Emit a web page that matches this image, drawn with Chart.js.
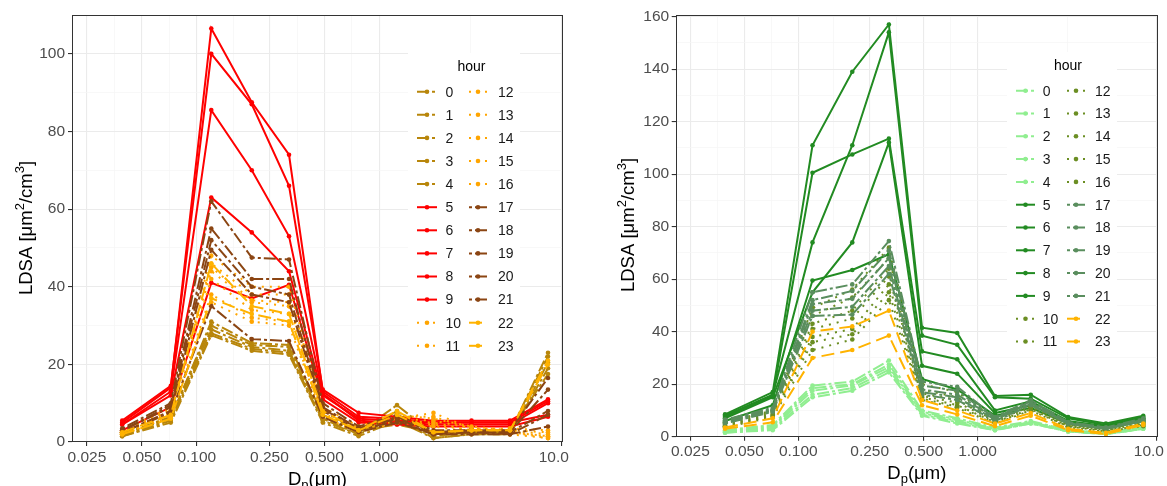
<!DOCTYPE html>
<html lang="en">
<head>
<meta charset="UTF-8">
<title>LDSA by particle size and hour</title>
<script src="https://cdn.jsdelivr.net/npm/chart.js"></script>
<style>
  body { margin: 0; background: #fff; }
  .wrap { position: relative; width: 1167px; height: 486px; overflow: hidden; }
  #leftChart { position: absolute; left: 0; top: 0; }
  #rightChart { position: absolute; left: 583px; top: 0; }
</style>
</head>
<body>
<div class="wrap">
  <canvas id="leftChart" width="583" height="486"></canvas>
  <canvas id="rightChart" width="584" height="486"></canvas>
</div>
<script>
// particle size classes (um) and hours of the day
const diameters = [0.039, 0.072, 0.12, 0.2, 0.32, 0.49, 0.77, 1.25, 1.98, 3.2, 5.2, 8.4];
const hours = [0, 1, 2, 3, 4, 5, 6, 7, 8, 9, 10, 11, 12, 13, 14, 15, 16, 17, 18, 19, 20, 21, 22, 23];

const xTickValues = [0.025, 0.05, 0.1, 0.25, 0.5, 1, 10];
const xTickLabels = ['0.025', '0.050', '0.100', '0.250', '0.500', '1.000', '10.0'];
const xMinorValues = [0.0354, 0.0707, 0.158, 0.354, 0.707, 3.16];

const yMajorLeft = [0, 20, 40, 60, 80, 100];
const yMinorLeft = [10, 30, 50, 70, 90, 110];
const yMajorRight = [0, 20, 40, 60, 80, 100, 120, 140, 160];
const yMinorRight = [10, 30, 50, 70, 90, 110, 130, 150];

// LDSA (um2/cm3), one row per hour, one value per diameter
const ldsaLeft = [
  [2.0, 6.5, 30, 25, 24.5, 6.5, 2.5, 9.5, 2.0, 2.5, 2.5, 23],
  [1.8, 6.0, 29, 24.5, 23.5, 6.0, 2.0, 8.0, 1.5, 2.5, 2.5, 22],
  [1.5, 5.5, 28, 24, 23, 5.5, 2.0, 6.5, 1.0, 2.0, 2.0, 20.5],
  [1.5, 5.0, 27.5, 23.5, 22.5, 5.0, 1.5, 5.5, 1.0, 2.0, 2.0, 19],
  [2.2, 6.0, 31, 25.5, 25, 7.0, 3.0, 4.5, 2.5, 3.0, 3.0, 17.5],
  [3.0, 9.0, 41, 37, 40.5, 11, 5.0, 4.5, 4.0, 4.0, 4.0, 6.5],
  [4.5, 12, 63, 54, 44, 12, 6.0, 5.5, 5.0, 5.0, 5.0, 7.0],
  [5.5, 14.5, 100, 87, 66, 13.5, 7.5, 6.5, 5.5, 5.5, 5.5, 11],
  [5.0, 14, 106.5, 87.5, 74, 13, 6.5, 6.0, 5.0, 5.0, 5.0, 10.5],
  [4.5, 13, 85.5, 70, 53, 12.5, 5.5, 5.0, 4.5, 4.5, 4.5, 10],
  [2.5, 8, 44, 36, 35, 8, 3.5, 6, 7.5, 3.5, 3.5, 3.0],
  [2.5, 8.5, 46, 38, 38, 8.5, 3.5, 6.5, 6.5, 3.5, 3.0, 2.5],
  [2.8, 9, 48, 40, 40, 9, 4.0, 7, 6.0, 4.0, 3.0, 2.0],
  [2.5, 8, 45, 36.5, 36, 8, 3.5, 6, 5.5, 3.5, 2.5, 1.5],
  [2.2, 7.5, 42, 34, 33, 7.5, 3.0, 5.5, 5.0, 3.0, 2.5, 1.5],
  [2.0, 7, 38, 32, 31, 7, 3.0, 5.0, 4.5, 3.0, 2.5, 1.0],
  [2.0, 6.5, 36, 31, 30, 6.5, 2.5, 5.0, 4.0, 2.5, 2.0, 1.0],
  [3.5, 10, 62, 47.5, 47, 10, 4.0, 7.0, 3.0, 3.0, 3.0, 16.5],
  [3.0, 9.5, 55, 42, 42, 9, 3.5, 6.5, 2.5, 3.0, 2.5, 13.5],
  [3.0, 9, 52, 40, 38, 8.5, 3.5, 6.0, 2.5, 2.5, 2.5, 8],
  [2.5, 8, 49.5, 38, 36, 8, 3.0, 5.5, 2.0, 2.5, 2.0, 7],
  [2.5, 7.5, 35, 26.5, 26, 6.5, 2.5, 5.0, 2.0, 2.0, 2.0, 4],
  [2.5, 7, 46, 35, 33, 8, 3.0, 8, 2.5, 3.0, 3.0, 21],
  [2.0, 6, 37, 33, 31, 7, 3.0, 7, 2.5, 3.0, 3.0, 20]
];

const ldsaRight = [
  [2.5, 4.5, 19.5, 21, 29, 10, 7.0, 3.5, 6.0, 2.5, 1.5, 3.5],
  [2.0, 4.0, 18.5, 20, 27.5, 9.5, 6.5, 3.0, 5.5, 2.5, 1.5, 3.5],
  [1.8, 3.5, 17.5, 19.5, 26.5, 9.0, 6.0, 3.0, 5.5, 2.0, 1.0, 3.0],
  [1.5, 3.0, 16, 18.5, 25.5, 8.5, 5.5, 2.5, 5.0, 2.0, 1.0, 3.0],
  [1.5, 2.5, 15, 17.5, 24.5, 8.0, 5.0, 2.5, 5.0, 2.0, 1.0, 3.0],
  [6.0, 12, 59.5, 63.5, 69.5, 22, 18, 8, 11, 5.0, 3.0, 6.0],
  [7.0, 15, 55, 74, 112, 27, 24, 9, 12, 5.5, 3.5, 6.5],
  [8.5, 17, 111, 139, 157, 41.5, 39.5, 15.5, 16, 7.5, 5.0, 8.0],
  [8.0, 16, 74, 111, 154, 38.5, 35, 15, 14.5, 7.0, 4.5, 7.5],
  [7.5, 15.5, 100.5, 107.5, 113.5, 32.5, 29.5, 10, 13.5, 6.0, 4.0, 7.0],
  [5.5, 10, 49, 56, 72, 20, 17, 7, 13, 5, 3, 6],
  [5.0, 9.5, 46, 53, 68, 18, 15, 6.5, 12, 4.5, 3, 5.5],
  [4.5, 9, 43, 48, 64, 16.5, 14, 6, 11.5, 4.5, 2.5, 5],
  [4.5, 8.5, 41, 45, 61, 15.5, 13, 6, 11, 4, 2.5, 5],
  [4.0, 8, 38, 41, 58, 15, 12, 5.5, 10.5, 4, 2.5, 4.5],
  [4.0, 8, 36, 39, 55, 14.5, 11.5, 5.5, 10, 4, 2, 4.5],
  [3.5, 7.5, 33, 37, 52, 14, 11, 5, 10, 3.5, 2, 4],
  [6.5, 11, 55, 58, 74.5, 21, 19, 7.5, 14, 5.5, 3.5, 7],
  [6.0, 10.5, 52, 55.5, 71, 19.5, 17.5, 7, 13.5, 5.5, 3.5, 6.5],
  [6.0, 10, 50.5, 52.5, 68, 18, 16, 7, 13, 5, 3, 6.5],
  [5.5, 10, 48, 49.5, 65, 17, 15, 6.5, 12.5, 5, 3, 6],
  [5.0, 9.5, 46, 46.5, 62, 16, 14, 6, 12, 5, 3, 6],
  [3.5, 7, 40, 42, 48, 14, 10, 5, 9, 3, 1.5, 5],
  [3.0, 5.5, 30, 33, 38.5, 12, 8.5, 4, 8, 2.5, 1, 4.5]
];

// hour groups: 0-4, 5-9, 10-16, 17-21, 22-23
function groupOf(h) {
  if (h <= 4) return 0;
  if (h <= 9) return 1;
  if (h <= 16) return 2;
  if (h <= 21) return 3;
  return 4;
}
const dashes = [[12, 3, 3, 3], [], [2, 6], [3, 3, 12, 3], [13, 6]];
const leftColors = ['#B8860B', '#FF0000', '#FFA500', '#8B4513', '#FFB300'];
const rightColors = ['#90EE90', '#228B22', '#6B8E23', '#5A8E5E', '#FFB300'];

const FONT = '"Liberation Sans", Arial, sans-serif';

function makeDatasets(rows, colors) {
  return hours.map(h => {
    const g = groupOf(h);
    return {
      label: String(h),
      data: diameters.map((d, i) => ({ x: d, y: rows[h][i] })),
      borderColor: colors[g],
      backgroundColor: colors[g],
      borderWidth: 2,
      borderDash: dashes[g],
      pointRadius: 2.3,
      pointBorderWidth: 0,
      pointBackgroundColor: colors[g],
      tension: 0,
      order: 23 - h
    };
  });
}

// axis titles, x tick labels, panel border and the inside legend
const decorations = {
  id: 'decorations',
  afterDraw(chart) {
    const ctx = chart.ctx;
    const area = chart.chartArea;
    const o = chart.options.plugins.decorations;
    const xs = chart.scales.x;

    ctx.save();
    ctx.strokeStyle = '#333333';
    ctx.lineWidth = 1;
    ctx.strokeRect(Math.round(area.left) + 0.5, Math.round(area.top) + 0.5,
      Math.round(area.right - area.left) - 1, Math.round(area.bottom - area.top) - 1);

    // x tick labels
    ctx.font = '15.5px ' + FONT;
    ctx.fillStyle = '#4d4d4d';
    ctx.textAlign = 'center';
    ctx.textBaseline = 'alphabetic';
    xTickValues.forEach((v, i) => {
      let px = xs.getPixelForValue(v);
      if (i === xTickValues.length - 1) px -= 8;
      ctx.fillText(xTickLabels[i], px, area.bottom + 19.5);
    });

    // x title: D_p(um)
    ctx.fillStyle = '#000';
    ctx.textAlign = 'left';
    const big = '18.5px ' + FONT, small = '13px ' + FONT;
    ctx.font = big; const wD = ctx.measureText('D').width; const wR = ctx.measureText('(μm)').width;
    ctx.font = small; const wP = ctx.measureText('p').width;
    let x0 = (area.left + area.right) / 2 - (wD + wP + wR) / 2;
    const yb = o.xTitleY;
    ctx.font = big; ctx.fillText('D', x0, yb);
    ctx.font = small; ctx.fillText('p', x0 + wD, yb + 4);
    ctx.font = big; ctx.fillText('(μm)', x0 + wD + wP, yb);

    // y title: LDSA [um^2/cm^3]
    const parts = [['LDSA [μm', 0], ['2', 1], ['/cm', 0], ['3', 1], [']', 0]];
    let total = 0;
    parts.forEach(p => { ctx.font = p[1] ? small : big; p.push(ctx.measureText(p[0]).width); total += p[2]; });
    ctx.translate(o.yTitleX, o.yTitleY);
    ctx.rotate(-Math.PI / 2);
    let cx = -total / 2;
    parts.forEach(p => {
      ctx.font = p[1] ? small : big;
      ctx.fillText(p[0], cx, p[1] ? -8 : 0);
      cx += p[2];
    });
    ctx.restore();

    // legend
    const lg = o.legend;
    ctx.save();
    ctx.fillStyle = '#fff';
    ctx.fillRect(lg.x, lg.y, lg.w, lg.h);
    ctx.fillStyle = '#000';
    ctx.font = '14px ' + FONT;
    ctx.textAlign = 'center';
    ctx.textBaseline = 'middle';
    ctx.fillText('hour', lg.titleX, lg.titleY);
    ctx.textAlign = 'left';
    chart.data.datasets.forEach((ds, i) => {
      const c = lg.cols[i < 12 ? 0 : 1];
      const y = lg.row0 + (i % 12) * lg.rowStep;
      ctx.strokeStyle = ds.borderColor;
      ctx.lineWidth = ds.borderWidth;
      ctx.setLineDash(ds.borderDash);
      ctx.beginPath();
      ctx.moveTo(c.k0, y);
      ctx.lineTo(c.k1, y);
      ctx.stroke();
      ctx.setLineDash([]);
      ctx.fillStyle = ds.borderColor;
      ctx.beginPath();
      ctx.arc((c.k0 + c.k1) / 2, y, ds.pointRadius, 0, Math.PI * 2);
      ctx.fill();
      ctx.fillStyle = '#1a1a1a';
      ctx.font = '14px ' + FONT;
      ctx.fillText(ds.label, c.label, y + 1);
    });
    ctx.restore();
  }
};

function makeChart(id, rows, colors, cfg) {
  const yMajor = cfg.yMajor, yMinor = cfg.yMinor;
  const yAll = yMajor.concat(yMinor).sort((a, b) => a - b);
  const xAll = xTickValues.concat(xMinorValues).sort((a, b) => a - b);
  const isMajorX = v => xTickValues.some(t => Math.abs(t - v) < 1e-9);
  const isMajorY = v => yMajor.includes(v);
  return new Chart(document.getElementById(id), {
    type: 'line',
    data: { datasets: makeDatasets(rows, colors) },
    plugins: [decorations],
    options: {
      responsive: false,
      animation: false,
      devicePixelRatio: 1,
      layout: { padding: { top: 15, right: cfg.padRight, left: 0, bottom: 0 } },
      plugins: {
        legend: { display: false },
        tooltip: { enabled: false },
        decorations: cfg.deco
      },
      scales: {
        x: {
          type: 'logarithmic',
          min: 0.0207,
          max: 10.15,
          afterBuildTicks: s => { s.ticks = xAll.map(v => ({ value: v })); },
          afterFit: s => { s.height = cfg.xHeight; },
          ticks: { autoSkip: false, maxRotation: 0, callback: () => '' },
          grid: {
            color: c => isMajorX(c.tick.value) ? '#ebebeb' : '#f5f5f5',
            lineWidth: c => isMajorX(c.tick.value) ? 1.1 : 0.7,
            tickColor: c => isMajorX(c.tick.value) ? '#333333' : 'rgba(0,0,0,0)',
            tickLength: 4
          },
          border: { display: false }
        },
        y: {
          type: 'linear',
          min: 0,
          max: cfg.yMax,
          afterBuildTicks: s => { s.ticks = yAll.map(v => ({ value: v })); },
          afterFit: s => { s.width = cfg.yWidth; },
          ticks: {
            autoSkip: false,
            padding: cfg.yPad,
            color: '#4d4d4d',
            font: { family: FONT, size: 15.5 },
            callback: v => isMajorY(v) ? String(v) : ''
          },
          grid: {
            color: c => isMajorY(c.tick.value) ? '#ebebeb' : '#f5f5f5',
            lineWidth: c => isMajorY(c.tick.value) ? 1.1 : 0.7,
            tickColor: c => isMajorY(c.tick.value) ? '#333333' : 'rgba(0,0,0,0)',
            tickLength: 4
          },
          border: { display: false }
        }
      }
    }
  });
}

makeChart('leftChart', ldsaLeft, leftColors, {
  yMajor: yMajorLeft, yMinor: yMinorLeft, yMax: 110,
  yWidth: 72, xHeight: 44, padRight: 20, yPad: 3,
  deco: {
    xTitleY: 485, yTitleX: 32, yTitleY: 228,
    legend: {
      x: 408, y: 53, w: 112, h: 304, titleX: 471.5, titleY: 67,
      row0: 91.7, rowStep: 23.1,
      cols: [{ k0: 417, k1: 437, label: 445.5 }, { k0: 469, k1: 487, label: 498 }]
    }
  }
});

makeChart('rightChart', ldsaRight, rightColors, {
  yMajor: yMajorRight, yMinor: yMinorRight, yMax: 160.6,
  yWidth: 92.7, xHeight: 49.3, padRight: 9, yPad: 2.5,
  deco: {
    xTitleY: 478.5, yTitleX: 51, yTitleY: 225,
    legend: {
      x: 424, y: 52, w: 110, h: 300, titleX: 485, titleY: 66,
      row0: 90.7, rowStep: 22.8,
      cols: [{ k0: 433, k1: 452, label: 459.7 }, { k0: 484, k1: 502, label: 512 }]
    }
  }
});
</script>
</body>
</html>
